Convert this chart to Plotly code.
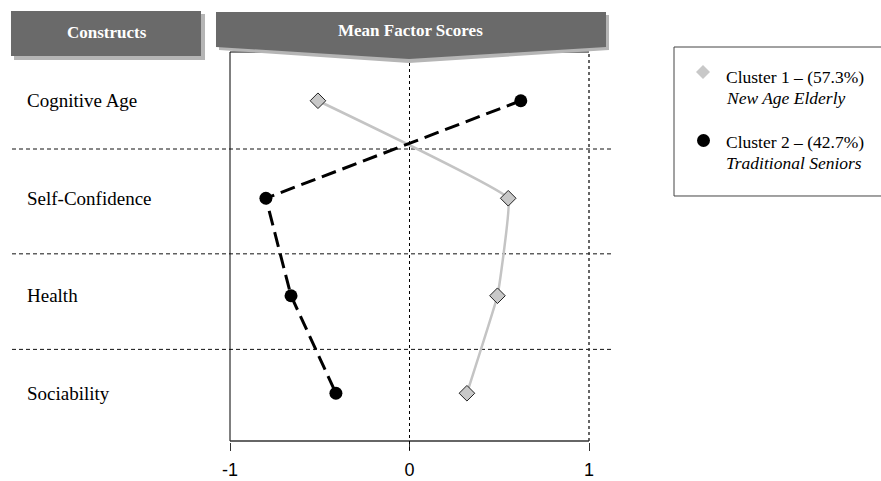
import plotly.graph_objects as go

constructs = ["Cognitive Age", "Self-Confidence", "Health", "Sociability"]
cluster1 = [-0.51, 0.55, 0.49, 0.32]
cluster2 = [0.62, -0.80, -0.66, -0.41]
x_ticks = [-1, 0, 1]
x_tick_labels = ["-1", "0", "1"]
legend_titles = ["Cluster 1 \u2013 (57.3%)", "Cluster 2 \u2013 (42.7%)"]
legend_subtitles = ["New Age Elderly", "Traditional Seniors"]

W, H = 881, 481
L, R, T, B = 230, 589, 52, 442


def px(x):
    return (x - L) / (R - L)


def py(y):
    return (B - y) / (B - T)


def path(pts):
    s = "M" + " L".join(f"{px(a):.5f},{py(b):.5f}" for a, b in pts) + " Z"
    return s


serif = "Liberation Serif, Times New Roman, serif"
sans = "Liberation Sans, Arial, sans-serif"

fig = go.Figure()
fig.add_trace(go.Scatter(
    x=cluster1, y=constructs, mode="lines+markers", name=legend_titles[0],
    line=dict(color="#c4c4c4", width=2.5, shape="spline", smoothing=0.2),
    marker=dict(symbol="diamond", size=12, color="#c8c8c8",
                line=dict(color="#222", width=1)),
    showlegend=False))
fig.add_trace(go.Scatter(
    x=cluster2, y=constructs, mode="lines+markers", name=legend_titles[1],
    line=dict(color="black", width=3, dash="15px,7px"),
    marker=dict(symbol="circle", size=13, color="black"),
    showlegend=False))

shapes = []
# row separators
for yv in [0.495, 1.57, 2.55, 3.51]:
    shapes.append(dict(type="line", xref="paper", yref="y", x0=px(12), x1=px(612),
                       y0=yv, y1=yv, line=dict(color="#111", width=1, dash="4px,3px"), layer="below"))
# plot frame
shapes.append(dict(type="line", xref="paper", yref="paper", x0=0, x1=0, y0=py(441), y1=1,
                   line=dict(color="black", width=1)))
shapes.append(dict(type="line", xref="paper", yref="paper", x0=0, x1=1, y0=1, y1=1,
                   line=dict(color="black", width=1)))
shapes.append(dict(type="line", xref="paper", yref="paper", x0=0, x1=1, y0=py(441), y1=py(441),
                   line=dict(color="#333", width=1.5)))
shapes.append(dict(type="line", xref="paper", yref="paper", x0=1, x1=1, y0=py(441), y1=1,
                   line=dict(color="#333", width=1.5, dash="dot")))
# zero line
shapes.append(dict(type="line", xref="x", yref="paper", x0=0, x1=0, y0=py(450), y1=1,
                   line=dict(color="black", width=1, dash="dot")))
# header: Constructs
shapes.append(dict(type="path", xref="paper", yref="paper",
                   path=path([(14, 14), (205, 14), (205, 60), (14, 60)]),
                   fillcolor="#b5b5b5", line=dict(width=0)))
shapes.append(dict(type="path", xref="paper", yref="paper",
                   path=path([(11, 11), (201, 11), (201, 56), (11, 56)]),
                   fillcolor="#6a6a6a", line=dict(width=0)))
# header: Mean Factor Scores
shapes.append(dict(type="path", xref="paper", yref="paper",
                   path=path([(219, 15), (609, 15), (609, 50), (409, 63), (219, 50)]),
                   fillcolor="#b5b5b5", line=dict(width=0)))
shapes.append(dict(type="path", xref="paper", yref="paper",
                   path=path([(216, 12), (606, 12), (606, 47), (409, 59), (216, 47)]),
                   fillcolor="#6a6a6a", line=dict(width=0)))
# legend box
shapes.append(dict(type="path", xref="paper", yref="paper",
                   path=path([(674, 47), (895, 47), (895, 196), (674, 196)]),
                   fillcolor="rgba(0,0,0,0)", line=dict(color="#444", width=1)))
# legend markers
shapes.append(dict(type="path", xref="paper", yref="paper",
                   path=path([(703, 65), (710, 72), (703, 79), (696, 72)]),
                   fillcolor="#c8c8c8", line=dict(width=0)))
shapes.append(dict(type="circle", xref="paper", yref="paper",
                   x0=px(697), x1=px(710), y0=py(147), y1=py(134),
                   fillcolor="black", line=dict(width=0)))

annotations = []
for c in constructs:
    annotations.append(dict(text=c, xref="paper", yref="y", x=px(25), y=c,
                            xanchor="left", yanchor="middle", showarrow=False,
                            font=dict(family=serif, size=19, color="black")))
annotations.append(dict(text="<b>Constructs</b>", xref="paper", yref="paper", x=px(107), y=py(33),
                        xanchor="center", yanchor="middle", showarrow=False,
                        font=dict(family=serif, size=17, color="white")))
annotations.append(dict(text="<b>Mean Factor Scores</b>", xref="paper", yref="paper", x=px(410), y=py(31),
                        xanchor="center", yanchor="middle", showarrow=False,
                        font=dict(family=serif, size=17, color="white")))
for i, (t, s) in enumerate(zip(legend_titles, legend_subtitles)):
    y0 = [77, 142][i]
    annotations.append(dict(text=t, xref="paper", yref="paper", x=px(724), y=py(y0),
                            xanchor="left", yanchor="middle", showarrow=False,
                            font=dict(family=serif, size=17.5, color="black")))
    annotations.append(dict(text=f"<i>{s}</i>", xref="paper", yref="paper", x=px(724), y=py(y0 + 21),
                            xanchor="left", yanchor="middle", showarrow=False,
                            font=dict(family=serif, size=17.5, color="black")))

fig.update_layout(
    width=W, height=H,
    margin=dict(l=L, r=W - R, t=T, b=H - B, pad=0, autoexpand=False),
    paper_bgcolor="white", plot_bgcolor="white",
    shapes=shapes, annotations=annotations,
    xaxis=dict(range=[-1, 1], tickvals=x_ticks, ticktext=x_tick_labels,
               showgrid=False, zeroline=False, showline=False, automargin=False,
               ticks="outside", ticklen=8, tickcolor="#333", tickwidth=1,
               ticklabelstandoff=3,
               tickfont=dict(family=sans, size=18, color="black")),
    yaxis=dict(type="category", categoryarray=constructs, range=[3.5, -0.5],
               showgrid=False, zeroline=False, showline=False, showticklabels=False,
               ticks="", automargin=False),
    showlegend=False,
)

fig.write_html("out.html", config={"displayModeBar": False},
               post_script="document.body.style.margin='0';document.body.style.overflow='hidden';")
